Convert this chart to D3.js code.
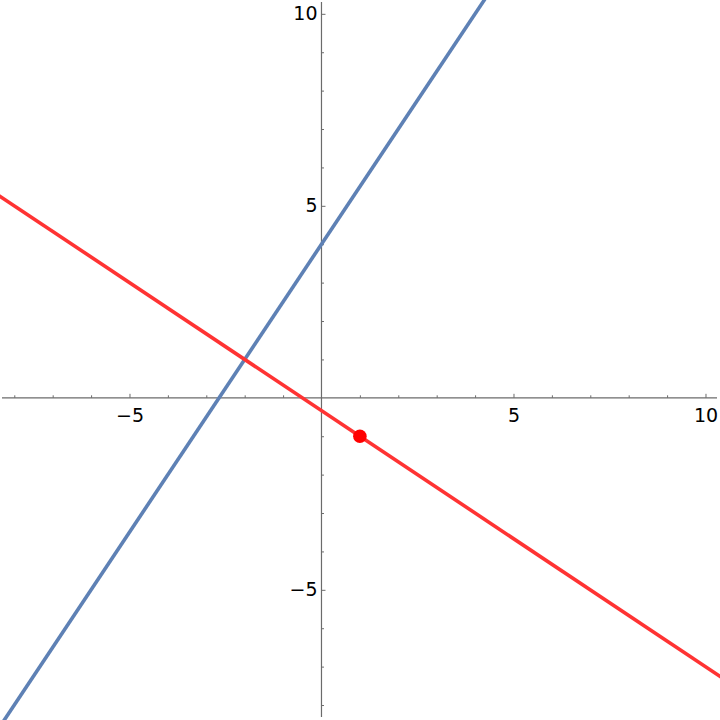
<!DOCTYPE html>
<html>
<head>
<meta charset="utf-8">
<script src="https://cdn.jsdelivr.net/npm/d3@7"></script>
<style>
  html, body { margin: 0; padding: 0; background: #fff; }
  svg { display: block; font-family: "DejaVu Sans", sans-serif; }
</style>
</head>
<body>
<svg id="plot"></svg>
<script>
// two straight lines, each given by two points
const blueLine = [[-9, -9.5], [5, 11.5]];
const redLine = [[-9, 5.667], [11, -7.667]];
const points = [[1, -1]];
const majorTicks = [-5, 5, 10];
const minorTicks = d3.range(-8, 11).filter((d) => d !== 0 && d % 5 !== 0);

const width = 720;
const height = 720;
const axisColor = "#6b6b6b";

const x = d3.scaleLinear().domain([-8.372, 10.378]).range([0, width]);
const y = d3.scaleLinear().domain([-8.39, 10.36]).range([height, 0]);

const svg = d3.select("#plot").attr("width", width).attr("height", height);

const fmt = (d) => (d < 0 ? "\u2212" + Math.abs(d) : String(d));

// axis lines
svg.append("line")
  .attr("x1", 2).attr("x2", 717)
  .attr("y1", y(0)).attr("y2", y(0))
  .attr("stroke", axisColor).attr("stroke-width", 1.2);
svg.append("line")
  .attr("x1", x(0)).attr("x2", x(0))
  .attr("y1", 2).attr("y2", 717)
  .attr("stroke", axisColor).attr("stroke-width", 1.2);

// x axis ticks
const xMinor = (g) =>
  g.attr("transform", `translate(0,${y(0)})`)
    .call(d3.axisBottom(x).tickValues(minorTicks).tickSizeInner(-2.5).tickSizeOuter(0).tickFormat(""))
    .call((g) => g.select(".domain").remove());
const xMajor = (g) =>
  g.attr("transform", `translate(0,${y(0)})`)
    .call(d3.axisBottom(x).tickValues(majorTicks).tickSizeInner(-4).tickSizeOuter(0).tickPadding(10.5).tickFormat(fmt))
    .call((g) => g.select(".domain").remove());

// y axis ticks
const yMinor = (g) =>
  g.attr("transform", `translate(${x(0)},0)`)
    .call(d3.axisLeft(y).tickValues(minorTicks).tickSizeInner(-2.5).tickSizeOuter(0).tickFormat(""))
    .call((g) => g.select(".domain").remove());
const yMajor = (g) =>
  g.attr("transform", `translate(${x(0)},0)`)
    .call(d3.axisLeft(y).tickValues(majorTicks).tickSizeInner(-4).tickSizeOuter(0).tickPadding(4).tickFormat(fmt))
    .call((g) => g.select(".domain").remove());

[xMinor, xMajor, yMinor, yMajor].forEach((a) => {
  svg.append("g").call(a)
    .call((g) => g.selectAll("line").attr("stroke", axisColor))
    .call((g) => g.selectAll("text")
      .attr("fill", "#000")
      .style("font-size", "19px")
      .style("font-family", "DejaVu Sans, sans-serif"));
});

const line = d3.line().x((d) => x(d[0])).y((d) => y(d[1]));

svg.append("path")
  .datum(blueLine)
  .attr("d", line)
  .attr("fill", "none")
  .attr("stroke", "#5e81b5")
  .attr("stroke-width", 3.6);

svg.append("path")
  .datum(redLine)
  .attr("d", line)
  .attr("fill", "none")
  .attr("stroke", "#ff3333")
  .attr("stroke-width", 3.6);

svg.append("g")
  .selectAll("circle")
  .data(points)
  .join("circle")
  .attr("cx", (d) => x(d[0]))
  .attr("cy", (d) => y(d[1]))
  .attr("r", 6.8)
  .attr("fill", "#ff0000");
</script>
</body>
</html>
